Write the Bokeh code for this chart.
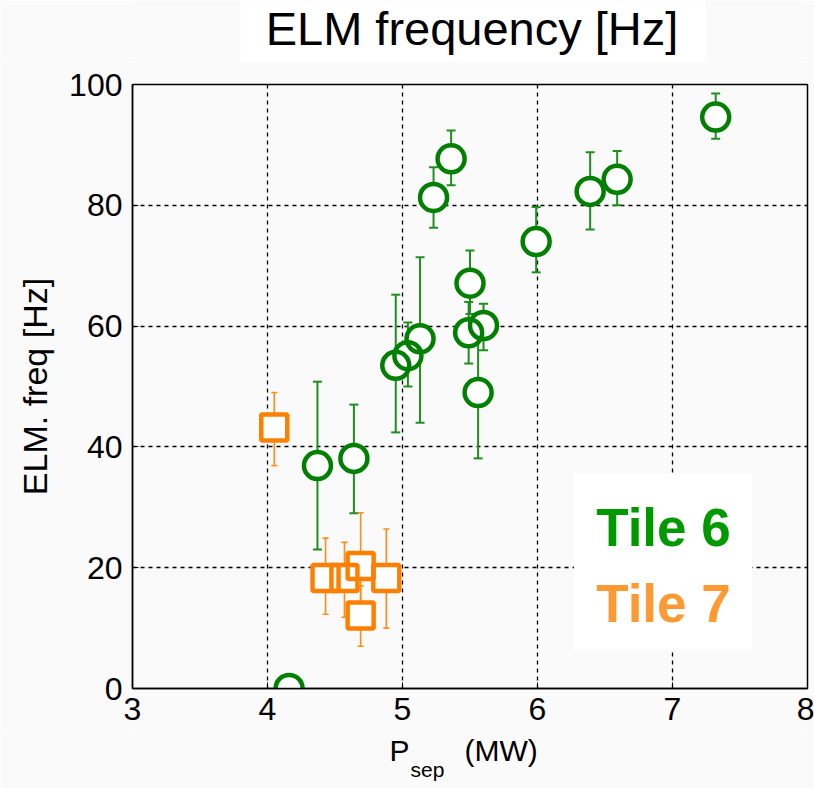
from bokeh.plotting import figure
from bokeh.layouts import column
from bokeh.models import (ColumnDataSource, Range1d, Whisker, TeeHead, Label,
                          BoxAnnotation, FixedTicker)
from bokeh.core.properties import value
from bokeh.embed import file_html
from bokeh.resources import INLINE

# ---- data ----
tile6_x = [4.16, 4.37, 4.64, 4.95, 5.04, 5.13, 5.23, 5.36, 5.50, 5.49, 5.60, 5.56, 5.99, 6.39, 6.59, 7.32]
tile6_y = [0.0, 36.9, 38.1, 53.5, 55.1, 57.9, 81.3, 87.7, 67.1, 58.9, 60.1, 49.0, 74.0, 82.3, 84.3, 94.6]
tile6_lo = [0.0, 23.0, 29.0, 42.4, 50.0, 44.0, 76.3, 83.3, 62.0, 53.8, 56.0, 38.1, 68.9, 76.0, 80.0, 91.0]
tile6_hi = [0.0, 50.8, 47.0, 65.2, 60.6, 71.4, 86.3, 92.4, 72.5, 64.0, 63.7, 60.0, 79.7, 88.8, 89.0, 98.5]

tile7_x = [4.05, 4.43, 4.57, 4.69, 4.69, 4.88]
tile7_y = [43.2, 18.3, 18.3, 20.3, 12.1, 18.3]
tile7_lo = [36.9, 12.3, 11.8, 11.4, 7.0, 10.0]
tile7_hi = [49.0, 24.9, 24.2, 29.1, 17.0, 26.4]

x_ticks = [3, 4, 5, 6, 7, 8]
y_ticks = [0, 20, 40, 60, 80, 100]

title_text = "ELM frequency [Hz]"
y_label = "ELM. freq [Hz]"
x_label_parts = ["P", "sep", "(MW)"]
series_names = ["Tile 6", "Tile 7"]

GREEN = "#008000"
GREEN_ERR = "#1f8f1f"
ORANGE = "#ff8000"
ORANGE_ERR = "#ff8c1a"
BG = "#fafafa"
FONT = "Liberation Sans"
W, H = 814, 788
LEFT, RIGHT = 132, 7           # frame borders shared by all three strips
TOP_H, BOT_H = 62, 54
FRAME_TOP, FRAME_BOTTOM = 84, 688
MAIN_H = H - TOP_H - BOT_H
BASE_SHIFT = 0.38               # alphabetic baseline sits this many em below the anchor


def strip(height, y_top):
    """A text strip whose frame uses page pixel coordinates."""
    f = figure(width=W, height=height, output_backend="svg", toolbar_location=None, title=None,
               x_range=Range1d(LEFT, W - RIGHT), y_range=Range1d(y_top + height, y_top),
               min_border_left=LEFT, min_border_right=RIGHT, min_border_top=0, min_border_bottom=0,
               x_axis_type=None, y_axis_type=None)
    f.background_fill_color = BG
    f.border_fill_color = BG
    f.outline_line_color = None
    f.grid.visible = False
    return f


# ---------------- title strip ----------------
pt = strip(TOP_H, 0)
pt.add_layout(BoxAnnotation(left=240, right=705, top=0, bottom=TOP_H,
                            fill_color="white", fill_alpha=1.0, line_color=None, level="underlay"))
pt.text(x=[471.5], y=[46 - BASE_SHIFT * 47], text=[title_text], text_font=value(FONT),
        text_font_size="47px", text_color="black", text_align="center", text_baseline="alphabetic")

# ---------------- main plot ----------------
s6 = ColumnDataSource(dict(x=tile6_x, y=tile6_y, lo=tile6_lo, hi=tile6_hi))
s7 = ColumnDataSource(dict(x=tile7_x, y=tile7_y, lo=tile7_lo, hi=tile7_hi))

p = figure(width=W, height=MAIN_H, output_backend="svg", toolbar_location=None, title=None,
           x_range=Range1d(3, 8), y_range=Range1d(0, 100),
           min_border_left=LEFT, min_border_right=RIGHT,
           min_border_top=FRAME_TOP - TOP_H,
           min_border_bottom=TOP_H + MAIN_H - FRAME_BOTTOM)

p.background_fill_color = BG
p.border_fill_color = BG
p.outline_line_color = "black"
p.outline_line_width = 1.5

for ax in (p.xaxis[0], p.yaxis[0]):
    ax.axis_line_color = "black"
    ax.axis_line_width = 1.5
    ax.major_tick_in = 6
    ax.major_tick_out = 0
    ax.minor_tick_line_color = None
    ax.major_label_text_font = FONT
    ax.major_label_text_font_size = "32px"
    ax.major_label_text_color = "black"

p.xaxis.ticker = FixedTicker(ticks=x_ticks)
p.yaxis.ticker = FixedTicker(ticks=y_ticks)
p.xaxis.major_label_standoff = 9
p.yaxis.major_label_standoff = 10

p.yaxis.axis_label = y_label
p.yaxis.axis_label_text_font = FONT
p.yaxis.axis_label_text_font_style = "normal"
p.yaxis.axis_label_text_font_size = "34px"
p.yaxis.axis_label_text_color = "black"
p.yaxis.axis_label_standoff = 12

p.grid.grid_line_color = "black"
p.grid.grid_line_dash = "4 4"
p.grid.grid_line_width = 1.3

# white box behind series labels
p.add_layout(BoxAnnotation(left=6.27, right=7.59, bottom=6.5, top=35.6,
                           fill_color="white", fill_alpha=1.0, line_color=None, level="underlay"))

# error bars
p.add_layout(Whisker(source=s6, base="x", upper="hi", lower="lo", dimension="height",
                     line_color=GREEN_ERR, line_width=2,
                     upper_head=TeeHead(size=9, line_color=GREEN_ERR, line_width=2),
                     lower_head=TeeHead(size=9, line_color=GREEN_ERR, line_width=2)))
p.add_layout(Whisker(source=s7, base="x", upper="hi", lower="lo", dimension="height",
                     line_color=ORANGE_ERR, line_width=1.6,
                     upper_head=TeeHead(size=6, line_color=ORANGE_ERR, line_width=1.6),
                     lower_head=TeeHead(size=6, line_color=ORANGE_ERR, line_width=1.6)))

# marker interiors first, then outlines
p.scatter("x", "y", source=s6, marker="circle", size=27, fill_color="white", line_color=None)
p.scatter("x", "y", source=s7, marker="square", size=26, fill_color="white", line_color=None)
p.scatter("x", "y", source=s6, marker="circle", size=27, fill_color=None, line_color=GREEN, line_width=4.5)
p.scatter("x", "y", source=s7, marker="square", size=26, fill_color=None, line_color=ORANGE, line_width=4.5)

# series labels
p.add_layout(Label(x=6.435, y=26.6, text=series_names[0], text_font=FONT, text_font_style="bold",
                   text_font_size="53px", text_color="#009900", text_baseline="alphabetic"))
p.add_layout(Label(x=6.435, y=14.0, text=series_names[1], text_font=FONT, text_font_style="bold",
                   text_font_size="53px", text_color="#ff9933", text_baseline="alphabetic"))

# ---------------- x-axis label strip (with subscript) ----------------
pb = strip(BOT_H, TOP_H + MAIN_H)
pb.text(x=[389], y=[761 - BASE_SHIFT * 30], text=[x_label_parts[0]], text_font=value(FONT),
        text_font_size="30px", text_color="black", text_baseline="alphabetic")
pb.text(x=[410], y=[777 - BASE_SHIFT * 21], text=[x_label_parts[1]], text_font=value(FONT),
        text_font_size="21px", text_color="black", text_baseline="alphabetic")
pb.text(x=[464], y=[761 - BASE_SHIFT * 30], text=[x_label_parts[2]], text_font=value(FONT),
        text_font_size="30px", text_color="black", text_baseline="alphabetic")

layout = column(pt, p, pb, spacing=0)
open("out.html", "w").write(file_html(layout, INLINE))
